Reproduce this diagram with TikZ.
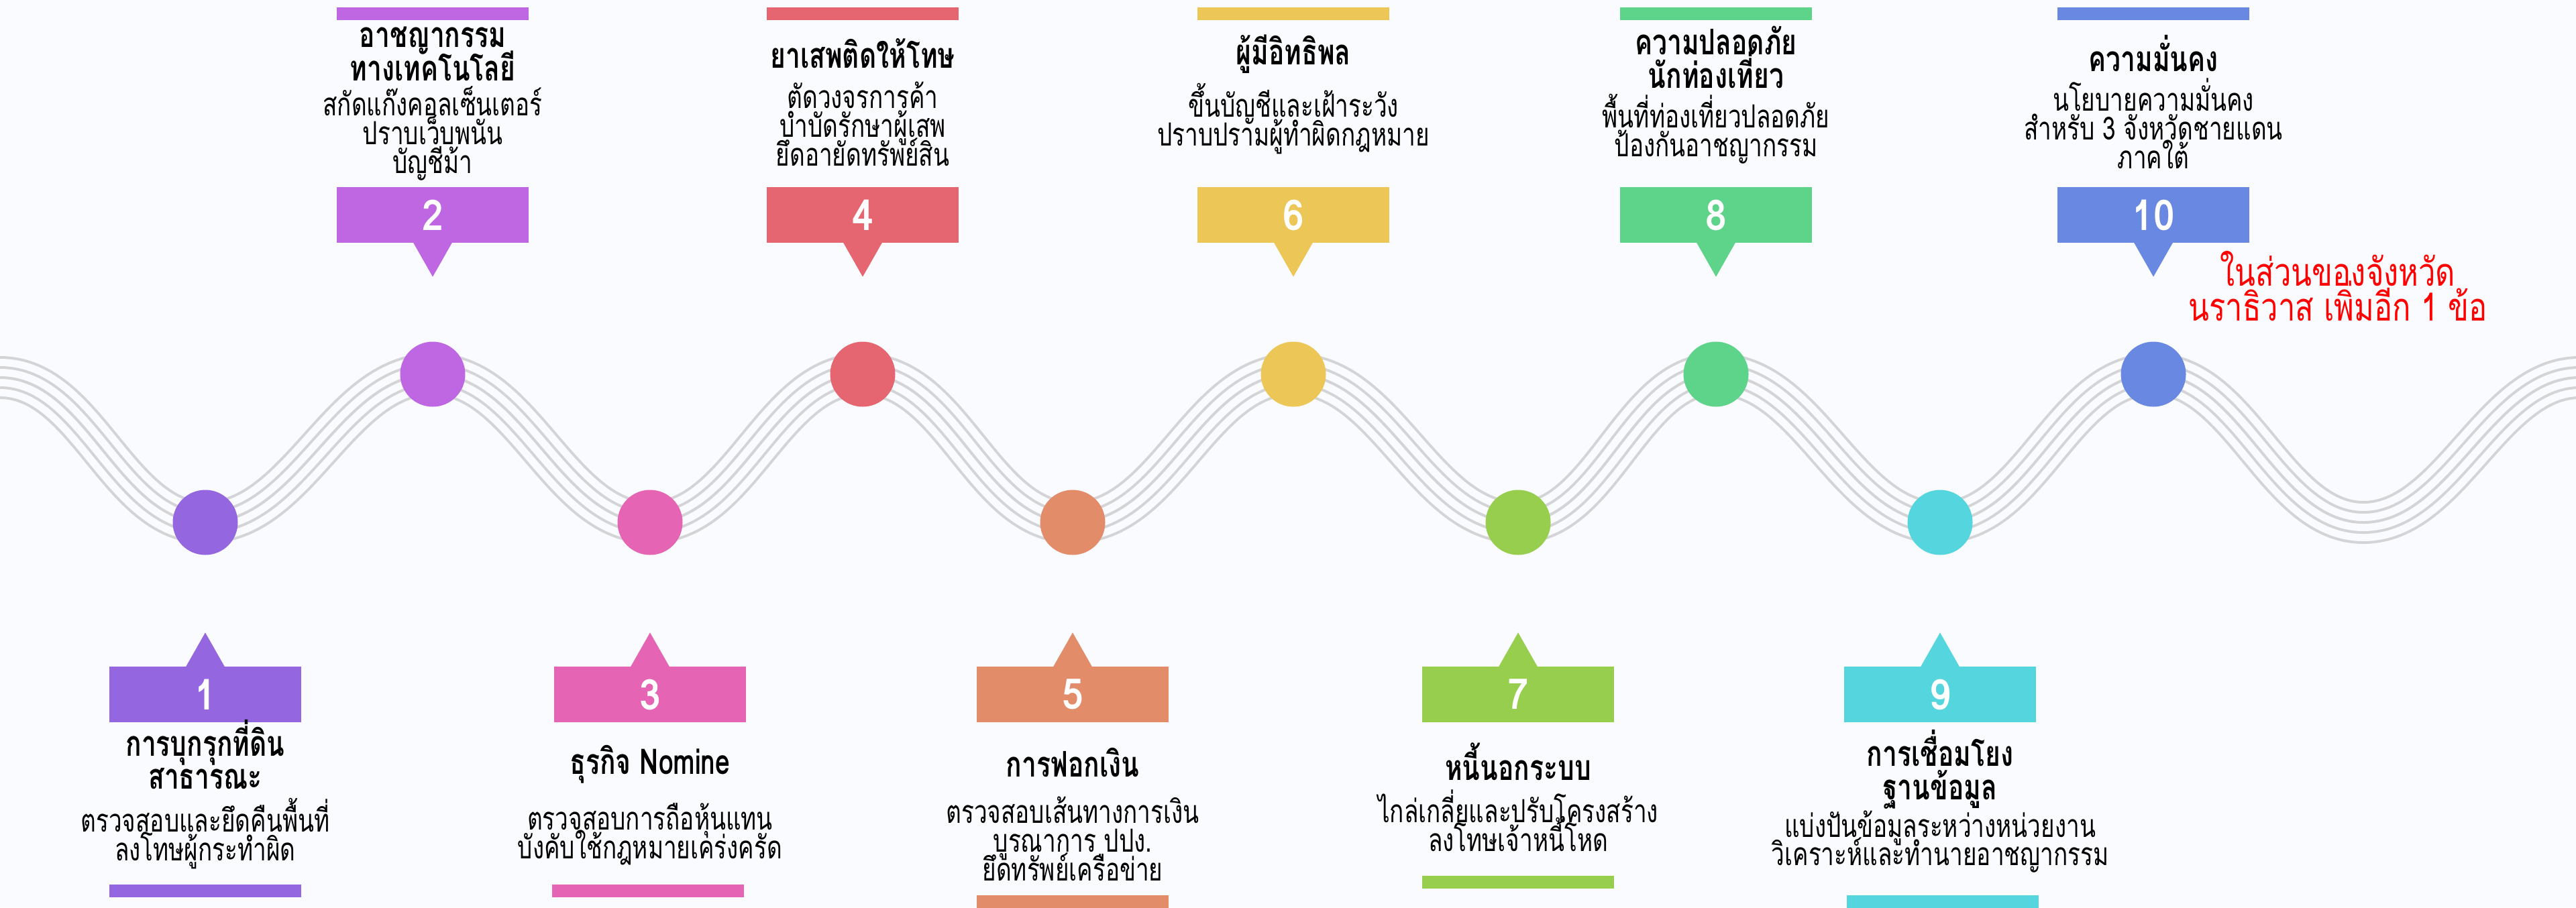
\documentclass[tikz,border=0pt]{standalone}
\usepackage{fontspec}
\setmainfont[Script=Thai, FakeStretch=0.74]{Loma}
\newfontfamily\numfont[Script=Thai, FakeStretch=0.9]{Loma}
\newfontfamily\notefont[Script=Thai, FakeStretch=0.78]{Loma}
\usetikzlibrary{backgrounds}

\newcommand\tightlines{\lineskiplimit-100pt\relax}

\definecolor{bgcol}{RGB}{250,251,254}
\definecolor{wavecol}{RGB}{212,212,214}
\definecolor{cviolet}{RGB}{148,103,224}
\definecolor{corchid}{RGB}{191,102,227}
\definecolor{cpink}{RGB}{229,101,180}
\definecolor{ccoral}{RGB}{229,102,112}
\definecolor{csalmon}{RGB}{227,140,105}
\definecolor{cmustard}{RGB}{236,198,87}
\definecolor{clime}{RGB}{151,206,78}
\definecolor{cmint}{RGB}{94,211,138}
\definecolor{ccyan}{RGB}{85,213,221}
\definecolor{cblue}{RGB}{104,136,226}

\begin{document}
\begin{tikzpicture}[
        numbox/.style={rectangle, fill=#1, minimum width=2.86cm, minimum height=0.83cm, inner sep=0pt,
            text=white, font=\numfont\bfseries\fontsize{18}{18}\selectfont},
        bar/.style={rectangle, fill=#1, minimum width=2.86cm, minimum height=0.19cm, inner sep=0pt},
        dot/.style={circle, fill=#1, minimum size=0.97cm, inner sep=0pt},
        heading/.style={align=center, inner sep=0pt,
            font=\bfseries\fontsize{15}{14.2}\selectfont\tightlines},
        detail/.style={align=center, inner sep=0pt,
            font=\fontsize{13.5}{12.2}\selectfont\tightlines},
        note/.style={align=center, inner sep=0pt, text=red,
            font=\notefont\fontsize{16.5}{14.8}\selectfont\tightlines}
    ]

    \useasboundingbox (0,0) rectangle (38.4,-13.53);

    % Punkte auf der Welle
    \node[dot=cviolet] (d1) at (3.06,-7.79) {};
    \node[dot=corchid] (d2) at (6.45,-5.58) {};
    \node[dot=cpink] (d3) at (9.69,-7.79) {};
    \node[dot=ccoral] (d4) at (12.86,-5.58) {};
    \node[dot=csalmon] (d5) at (15.99,-7.79) {};
    \node[dot=cmustard] (d6) at (19.28,-5.58) {};
    \node[dot=clime] (d7) at (22.63,-7.79) {};
    \node[dot=cmint] (d8) at (25.58,-5.58) {};
    \node[dot=ccyan] (d9) at (28.92,-7.79) {};
    \node[dot=cblue] (d10) at (32.10,-5.58) {};
    \coordinate (wl) at (0,-5.63);
    \coordinate (wt) at (35.23,-7.79);
    \coordinate (wr) at (38.45,-5.63);

    % Hintergrund und Wellenlinien
    \begin{scope}[on background layer]
        \fill[bgcol] (0,0) rectangle (38.4,-13.53);
        \foreach \w/\c in {0.64/wavecol, 0.56/bgcol, 0.34/wavecol, 0.26/bgcol, 0.04/wavecol}
            \draw[line width=\w cm, \c] (-0.6,-5.63) -- (wl)
                .. controls +(1.3,0) and +(-1.3,0) .. (d1.center)
                .. controls +(1.4,0) and +(-1.4,0) .. (d2.center)
                .. controls +(1.35,0) and +(-1.35,0) .. (d3.center)
                .. controls +(1.35,0) and +(-1.35,0) .. (d4.center)
                .. controls +(1.35,0) and +(-1.35,0) .. (d5.center)
                .. controls +(1.4,0) and +(-1.4,0) .. (d6.center)
                .. controls +(1.4,0) and +(-1.4,0) .. (d7.center)
                .. controls +(1.25,0) and +(-1.25,0) .. (d8.center)
                .. controls +(1.4,0) and +(-1.4,0) .. (d9.center)
                .. controls +(1.35,0) and +(-1.35,0) .. (d10.center)
                .. controls +(1.3,0) and +(-1.3,0) .. (wt)
                .. controls +(1.3,0) and +(-1.3,0) .. (wr) -- +(0.6,0);
    \end{scope}

    % Obere Reihe
    \node[bar=corchid] (bar2) at (6.45,-0.205) {};
    \node[heading] (h2) at (6.45,-0.80) {อาชญากรรม\\ทางเทคโนโลยี};
    \node[detail] (t2) at (6.45,-1.99) {สกัดแก๊งคอลเซ็นเตอร์\\ปราบเว็บพนัน\\บัญชีม้า};
    \node[numbox=corchid] (n2) at (6.45,-3.205) {2};
    \fill[corchid] ([xshift=-0.29cm,yshift=0.01cm]n2.south) -- ([xshift=0.29cm,yshift=0.01cm]n2.south) -- ([yshift=-0.5cm]n2.south) -- cycle;

    \node[bar=ccoral] (bar4) at (12.86,-0.205) {};
    \node[heading] (h4) at (12.86,-0.80) {ยาเสพติดให้โทษ};
    \node[detail] (t4) at (12.86,-1.85) {ตัดวงจรการค้า\\บำบัดรักษาผู้เสพ\\ยึดอายัดทรัพย์สิน};
    \node[numbox=ccoral] (n4) at (12.86,-3.205) {4};
    \fill[ccoral] ([xshift=-0.29cm,yshift=0.01cm]n4.south) -- ([xshift=0.29cm,yshift=0.01cm]n4.south) -- ([yshift=-0.5cm]n4.south) -- cycle;

    \node[bar=cmustard] (bar6) at (19.28,-0.205) {};
    \node[heading] (h6) at (19.28,-0.81) {ผู้มีอิทธิพล};
    \node[detail] (t6) at (19.28,-1.77) {ขึ้นบัญชีและเฝ้าระวัง\\ปราบปรามผู้ทำผิดกฎหมาย};
    \node[numbox=cmustard] (n6) at (19.28,-3.205) {6};
    \fill[cmustard] ([xshift=-0.29cm,yshift=0.01cm]n6.south) -- ([xshift=0.29cm,yshift=0.01cm]n6.south) -- ([yshift=-0.5cm]n6.south) -- cycle;

    \node[bar=cmint] (bar8) at (25.58,-0.205) {};
    \node[heading] (h8) at (25.58,-0.85) {ความปลอดภัย\\นักท่องเที่ยว};
    \node[detail] (t8) at (25.58,-1.92) {พื้นที่ท่องเที่ยวปลอดภัย\\ป้องกันอาชญากรรม};
    \node[numbox=cmint] (n8) at (25.58,-3.205) {8};
    \fill[cmint] ([xshift=-0.29cm,yshift=0.01cm]n8.south) -- ([xshift=0.29cm,yshift=0.01cm]n8.south) -- ([yshift=-0.5cm]n8.south) -- cycle;

    \node[bar=cblue] (bar10) at (32.10,-0.205) {};
    \node[heading] (h10) at (32.10,-0.80) {ความมั่นคง};
    \node[detail] (t10) at (32.10,-1.84) {นโยบายความมั่นคง\\สำหรับ 3 จังหวัดชายแดน\\ภาคใต้};
    \node[numbox=cblue] (n10) at (32.10,-3.205) {10};
    \fill[cblue] ([xshift=-0.29cm,yshift=0.01cm]n10.south) -- ([xshift=0.29cm,yshift=0.01cm]n10.south) -- ([yshift=-0.5cm]n10.south) -- cycle;

    % Hinweis
    \node[note] (hint) at (34.85,-4.27) {ในส่วนของจังหวัด\\นราธิวาส เพิ่มอีก 1 ข้อ};

    % Untere Reihe
    \node[numbox=cviolet] (n1) at (3.06,-10.355) {1};
    \fill[cviolet] ([xshift=-0.29cm,yshift=-0.01cm]n1.north) -- ([xshift=0.29cm,yshift=-0.01cm]n1.north) -- ([yshift=0.5cm]n1.north) -- cycle;
    \node[heading] (h1) at (3.06,-11.25) {การบุกรุกที่ดิน\\สาธารณะ};
    \node[detail] (t1) at (3.06,-12.43) {ตรวจสอบและยึดคืนพื้นที่\\ลงโทษผู้กระทำผิด};
    \node[bar=cviolet] (bar1) at (3.06,-13.285) {};

    \node[numbox=cpink] (n3) at (9.69,-10.355) {3};
    \fill[cpink] ([xshift=-0.29cm,yshift=-0.01cm]n3.north) -- ([xshift=0.29cm,yshift=-0.01cm]n3.north) -- ([yshift=0.5cm]n3.north) -- cycle;
    \node[heading] (h3) at (9.69,-11.40) {ธุรกิจ Nomine};
    \node[detail] (t3) at (9.69,-12.44) {ตรวจสอบการถือหุ้นแทน\\บังคับใช้กฎหมายเคร่งครัด};
    \node[bar=cpink] (bar3) at (9.66,-13.285) {};

    \node[numbox=csalmon] (n5) at (15.99,-10.355) {5};
    \fill[csalmon] ([xshift=-0.29cm,yshift=-0.01cm]n5.north) -- ([xshift=0.29cm,yshift=-0.01cm]n5.north) -- ([yshift=0.5cm]n5.north) -- cycle;
    \node[heading] (h5) at (15.99,-11.37) {การฟอกเงิน};
    \node[detail] (t5) at (15.99,-12.51) {ตรวจสอบเส้นทางการเงิน\\บูรณาการ ปปง.\\ยึดทรัพย์เครือข่าย};
    \node[bar=csalmon] (bar5) at (15.99,-13.445) {};

    \node[numbox=clime] (n7) at (22.63,-10.355) {7};
    \fill[clime] ([xshift=-0.29cm,yshift=-0.01cm]n7.north) -- ([xshift=0.29cm,yshift=-0.01cm]n7.north) -- ([yshift=0.5cm]n7.north) -- cycle;
    \node[heading] (h7) at (22.63,-11.36) {หนี้นอกระบบ};
    \node[detail] (t7) at (22.63,-12.24) {ไกล่เกลี่ยและปรับโครงสร้าง\\ลงโทษเจ้าหนี้โหด};
    \node[bar=clime] (bar7) at (22.63,-13.155) {};

    \node[numbox=ccyan] (n9) at (28.92,-10.355) {9};
    \fill[ccyan] ([xshift=-0.29cm,yshift=-0.01cm]n9.north) -- ([xshift=0.29cm,yshift=-0.01cm]n9.north) -- ([yshift=0.5cm]n9.north) -- cycle;
    \node[heading] (h9) at (28.92,-11.47) {การเชื่อมโยง\\ฐานข้อมูล};
    \node[detail] (t9) at (28.92,-12.55) {แบ่งปันข้อมูลระหว่างหน่วยงาน\\วิเคราะห์และทำนายอาชญากรรม};
    \node[bar=ccyan] (bar9) at (28.96,-13.445) {};

\end{tikzpicture}
\end{document}
